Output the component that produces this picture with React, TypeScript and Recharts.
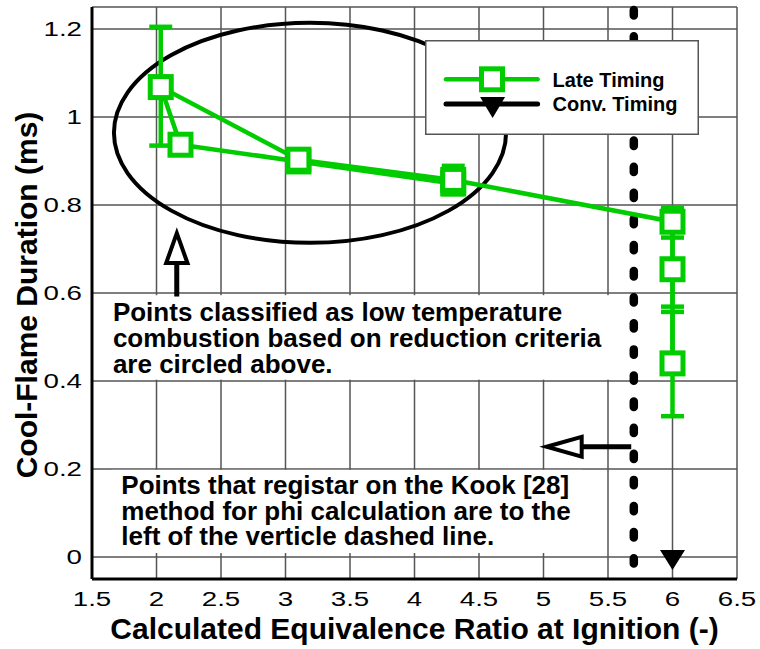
import React from 'react';
import {
  ComposedChart,
  Line,
  Scatter,
  XAxis,
  YAxis,
  CartesianGrid,
  ErrorBar,
  ReferenceArea,
  ReferenceLine,
  Legend,
  Label,
} from 'recharts';

const GREEN = '#00cc00';
const FONT = '"Liberation Sans", Arial, Helvetica, sans-serif';

// Late injection timing, listed in the order the points are joined
const lateTimingPhi = [4.3, 3.1, 2.186, 2.033, 3.1, 4.3, 6.0, 6.0, 6.0];
const lateTimingDuration = [0.849, 0.899, 0.937, 1.068, 0.903, 0.857, 0.762, 0.654, 0.44];
const lateTimingLow: (number | null)[] = [null, null, null, 0.935, null, 0.8245, 0.726, 0.569, 0.32];
const lateTimingHigh: (number | null)[] = [null, null, null, 1.205, null, 0.889, 0.794, 0.74, 0.557];

// Conventional injection timing
const convTimingPhi = [6.0];
const convTimingDuration = [0.0];

// Axes
const xDomain = [1.5, 6.5];
const yDomain = [-0.05, 1.25];
const xTicks = [1.5, 2, 2.5, 3, 3.5, 4, 4.5, 5, 5.5, 6, 6.5];
const yTicks = [0, 0.2, 0.4, 0.6, 0.8, 1, 1.2];
const xMinorTicks = [
  1.5, 1.6, 1.7, 1.8, 1.9, 2, 2.1, 2.2, 2.3, 2.4, 2.5, 2.6, 2.7, 2.8, 2.9, 3,
  3.1, 3.2, 3.3, 3.4, 3.5, 3.6, 3.7, 3.8, 3.9, 4, 4.1, 4.2, 4.3, 4.4, 4.5, 4.6,
  4.7, 4.8, 4.9, 5, 5.1, 5.2, 5.3, 5.4, 5.5, 5.6, 5.7, 5.8, 5.9, 6, 6.1, 6.2,
  6.3, 6.4, 6.5,
];
const yMinorTicks = [
  -0.05, 0, 0.05, 0.1, 0.15, 0.2, 0.25, 0.3, 0.35, 0.4, 0.45, 0.5, 0.55, 0.6,
  0.65, 0.7, 0.75, 0.8, 0.85, 0.9, 0.95, 1, 1.05, 1.1, 1.15, 1.2, 1.25,
];
const xTitle = 'Calculated Equivalence Ratio at Ignition (-)';
const yTitle = 'Cool-Flame Duration (ms)';

// Annotations
const kookLimitPhi = 5.7;
const ltcNoteLines = [
  'Points classified as low temperature',
  'combustion based on reduction criteria',
  'are circled above.',
];
const kookNoteLines = [
  'Points that registar on the Kook [28]',
  'method for phi calculation are to the',
  'left of the verticle dashed line.',
];

const lateTimingData = lateTimingPhi.map((phi, i) => {
  const lo = lateTimingLow[i];
  const hi = lateTimingHigh[i];
  const d = lateTimingDuration[i];
  return {
    phi,
    duration: d,
    err: lo == null || hi == null ? undefined : [d - lo, hi - d],
  };
});

const convTimingData = convTimingPhi.map((phi, i) => ({
  phi,
  duration: convTimingDuration[i],
}));

const legendItems = [
  { name: 'Late Timing', color: GREEN, marker: 'square' },
  { name: 'Conv. Timing', color: '#000', marker: 'triangle' },
];

const isMajorX = (v: number) => Math.abs(v * 2 - Math.round(v * 2)) < 1e-6;
const isMajorY = (v: number) => Math.abs(v * 5 - Math.round(v * 5)) < 1e-6;

const tickMark =
  (side: 'bottom' | 'top' | 'left' | 'right', isMajor: (v: number) => boolean, major: number, minor: number) =>
  (props: any) => {
    const { x, y, payload } = props;
    const len = isMajor(payload.value) ? major : minor;
    let x2 = x;
    let y2 = y;
    if (side === 'bottom') y2 = y - len;
    if (side === 'top') y2 = y + len;
    if (side === 'left') x2 = x + len;
    if (side === 'right') x2 = x - len;
    return <line x1={x} y1={y} x2={x2} y2={y2} stroke="#000" strokeWidth={2} />;
  };

const fmt = (v: number) => String(Number(v.toFixed(2)));

const XTickLabel = (props: any) => {
  const { x, y, payload } = props;
  return (
    <g transform={`translate(${x},${y + 27})`}>
      <text transform="scale(1.42,1)" x={0} y={0} textAnchor="middle" fontFamily={FONT} fontSize={19.5} fill="#000">
        {fmt(payload.value)}
      </text>
    </g>
  );
};

const YTickLabel = (props: any) => {
  const { x, y, payload } = props;
  return (
    <g transform={`translate(${x},${y + 7})`}>
      <text transform="scale(1.42,1)" x={0} y={0} textAnchor="end" fontFamily={FONT} fontSize={19.5} fill="#000">
        {fmt(payload.value)}
      </text>
    </g>
  );
};

const XTitle = (props: any) => {
  const vb = props.viewBox;
  return (
    <text x={vb.x + vb.width / 2} y={vb.y + 60} textAnchor="middle" fontFamily={FONT} fontWeight="bold" fontSize={30} fill="#000">
      {xTitle}
    </text>
  );
};

const YTitle = (props: any) => {
  const vb = props.viewBox;
  const cx = vb.x + 37;
  const cy = vb.y + vb.height / 2 + 2;
  return (
    <text
      x={cx}
      y={cy}
      transform={`rotate(-90, ${cx}, ${cy})`}
      textAnchor="middle"
      fontFamily={FONT}
      fontWeight="bold"
      fontSize={30}
      fill="#000"
    >
      {yTitle}
    </text>
  );
};

const SquareDot = (props: any) => {
  const { cx, cy, index } = props;
  if (cx == null || cy == null) return <g key={`sq-${index}`} />;
  return (
    <rect
      key={`sq-${index}`}
      x={cx - 10.5}
      y={cy - 10.5}
      width={21}
      height={21}
      fill="#fff"
      stroke={GREEN}
      strokeWidth={5}
    />
  );
};

const TriangleDown = (props: any) => {
  const { cx, cy } = props;
  return <path d={`M${cx - 12.5},${cy - 7} L${cx + 12.5},${cy - 7} L${cx},${cy + 13} Z`} fill="#000" />;
};

const ellipseShape = (p: any) => (
  <ellipse
    cx={p.x + p.width / 2}
    cy={p.y + p.height / 2}
    rx={p.width / 2}
    ry={p.height / 2}
    fill="none"
    stroke="#000"
    strokeWidth={4}
  />
);

// white note box with one <text> per line
const noteShape = (lines: string[], padX: number, firstBase: number, step: number) => (p: any) =>
  (
    <g>
      <rect x={p.x} y={p.y} width={p.width} height={p.height} fill="#fff" />
      {lines.map((t, i) => (
        <text
          key={i}
          x={p.x + padX}
          y={p.y + firstBase + i * step}
          fontFamily={FONT}
          fontWeight="bold"
          fontSize={26}
          fill="#000"
        >
          {t}
        </text>
      ))}
    </g>
  );

const upHead = (p: any) => (
  <polygon
    points={`${p.x + p.width / 2},${p.y} ${p.x + p.width},${p.y + p.height} ${p.x},${p.y + p.height}`}
    fill="#fff"
    stroke="#000"
    strokeWidth={4}
  />
);

const leftHead = (p: any) => (
  <polygon
    points={`${p.x},${p.y + p.height / 2} ${p.x + p.width},${p.y} ${p.x + p.width},${p.y + p.height}`}
    fill="#fff"
    stroke="#000"
    strokeWidth={4}
  />
);

const LegendBox = () => (
  <svg width={274} height={95} style={{ display: 'block' }}>
    <rect x={0.75} y={0.75} width={272.5} height={93.5} fill="#fff" stroke="#555" strokeWidth={1.5} />
    {legendItems.map((item, i) => {
      const ly = 39.3 + i * 24.7;
      return (
        <g key={item.name}>
          <line x1={21} y1={ly} x2={112.6} y2={ly} stroke={item.color} strokeWidth={i === 0 ? 4.5 : 5} strokeLinecap="round" />
          {item.marker === 'square' ? (
            <rect x={67 - 10.5} y={ly - 10.5} width={21} height={21} fill="#fff" stroke={item.color} strokeWidth={5} />
          ) : (
            <path d={`M${67.6 - 12.5},${ly - 7} L${67.6 + 12.5},${ly - 7} L${67.6},${ly + 14} Z`} fill={item.color} />
          )}
          <text x={127.6} y={ly + 7.4} fontFamily={FONT} fontWeight="bold" fontSize={20} fill="#000">
            {item.name}
          </text>
        </g>
      );
    })}
  </svg>
);

export default function App() {
  return (
    <div style={{ position: 'absolute', left: 0, top: 0, width: 760, height: 649, background: '#fff' }}>
      <ComposedChart width={760} height={649} margin={{ top: 7, right: 23, bottom: 0, left: 0 }}>
        <CartesianGrid xAxisId="x" yAxisId="y" stroke="#555" strokeWidth={1.5} />

        {/* inward tick marks on all four sides */}
        <XAxis
          xAxisId="tb"
          orientation="bottom"
          type="number"
          domain={xDomain}
          ticks={xMinorTicks}
          interval={0}
          mirror
          height={0}
          tickSize={0}
          tickMargin={0}
          tickLine={false}
          axisLine={false}
          tick={tickMark('bottom', isMajorX, 10, 6)}
          allowDataOverflow
        />
        <XAxis
          xAxisId="x"
          dataKey="phi"
          orientation="bottom"
          type="number"
          domain={xDomain}
          ticks={xTicks}
          interval={0}
          height={70}
          tickSize={0}
          tickMargin={0}
          tickLine={false}
          axisLine={{ stroke: '#000', strokeWidth: 3 }}
          tick={XTickLabel}
          allowDataOverflow
        >
          <Label content={XTitle} />
        </XAxis>
        <XAxis
          xAxisId="tt"
          orientation="top"
          type="number"
          domain={xDomain}
          ticks={xMinorTicks}
          interval={0}
          mirror
          height={0}
          tickSize={0}
          tickMargin={0}
          tickLine={false}
          axisLine={{ stroke: '#000', strokeWidth: 2.5 }}
          tick={tickMark('top', isMajorX, 10, 6)}
          allowDataOverflow
        />
        <YAxis
          yAxisId="tl"
          orientation="left"
          type="number"
          domain={yDomain}
          ticks={yMinorTicks}
          interval={0}
          mirror
          width={0}
          tickSize={0}
          tickMargin={0}
          tickLine={false}
          axisLine={false}
          tick={tickMark('left', isMajorY, 13, 8)}
          allowDataOverflow
        />
        <YAxis
          yAxisId="y"
          orientation="left"
          type="number"
          domain={yDomain}
          ticks={yTicks}
          interval={0}
          width={92}
          tickSize={0}
          tickMargin={10}
          tickLine={false}
          axisLine={{ stroke: '#000', strokeWidth: 3 }}
          tick={YTickLabel}
          allowDataOverflow
        >
          <Label content={YTitle} />
        </YAxis>
        <YAxis
          yAxisId="tr"
          orientation="right"
          type="number"
          domain={yDomain}
          ticks={yMinorTicks}
          interval={0}
          mirror
          width={0}
          tickSize={0}
          tickMargin={0}
          tickLine={false}
          axisLine={{ stroke: '#000', strokeWidth: 3 }}
          tick={tickMark('right', isMajorY, 13, 8)}
          allowDataOverflow
        />

        {/* low temperature combustion group */}
        <ReferenceArea xAxisId="x" yAxisId="y" x1={1.67} x2={4.71} y1={0.714} y2={1.214} shape={ellipseShape} ifOverflow="visible" />

        {/* note boxes */}
        <ReferenceArea xAxisId="x" yAxisId="y" x1={1.6} x2={5.58} y1={0.403} y2={0.595} shape={noteShape(ltcNoteLines, 8, 26, 25.7)} ifOverflow="visible" />
        <ReferenceArea xAxisId="x" yAxisId="y" x1={1.65} x2={5.3} y1={0.009} y2={0.198} shape={noteShape(kookNoteLines, 10, 24.3, 25.5)} ifOverflow="visible" />

        {/* arrow towards the circled group */}
        <ReferenceLine xAxisId="x" yAxisId="y" segment={[{ x: 2.157, y: 0.668 }, { x: 2.157, y: 0.592 }]} stroke="#000" strokeWidth={5} />
        <ReferenceArea xAxisId="x" yAxisId="y" x1={2.075} x2={2.24} y1={0.668} y2={0.736} shape={upHead} ifOverflow="visible" />

        {/* Kook method limit */}
        <ReferenceLine
          xAxisId="x"
          yAxisId="y"
          segment={[{ x: kookLimitPhi, y: 1.243 }, { x: kookLimitPhi, y: -0.015 }]}
          stroke="#000"
          strokeWidth={8.5}
          strokeDasharray="5.3 20.8"
          strokeLinecap="round"
        />
        <ReferenceLine xAxisId="x" yAxisId="y" segment={[{ x: 5.296, y: 0.2507 }, { x: 5.68, y: 0.2507 }]} stroke="#000" strokeWidth={5} />
        <ReferenceArea xAxisId="x" yAxisId="y" x1={5.024} x2={5.296} y1={0.228} y2={0.273} shape={leftHead} ifOverflow="visible" />

        <Line
          xAxisId="x"
          yAxisId="y"
          data={lateTimingData}
          dataKey="duration"
          name="Late Timing"
          type="linear"
          stroke={GREEN}
          strokeWidth={4.5}
          dot={SquareDot}
          activeDot={false}
          isAnimationActive={false}
        >
          <ErrorBar dataKey="err" direction="y" width={11.5} stroke={GREEN} strokeWidth={4.5} isAnimationActive={false} />
        </Line>
        <Scatter
          xAxisId="x"
          yAxisId="y"
          data={convTimingData}
          dataKey="duration"
          name="Conv. Timing"
          fill="#000"
          shape={TriangleDown}
          isAnimationActive={false}
        />

        <Legend
          layout="vertical"
          align="center"
          verticalAlign="middle"
          content={LegendBox}
          wrapperStyle={{ left: 425, top: 40, width: 274, height: 95 }}
        />
      </ComposedChart>
    </div>
  );
}
